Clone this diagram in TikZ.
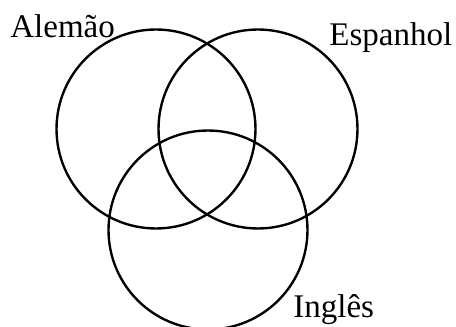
\documentclass[tikz,border=0pt]{standalone}
\usepackage{fontspec}
\setmainfont{Liberation Serif}
\usepackage{tikz}
\usetikzlibrary{positioning}
\definecolor{vennblack}{RGB}{0, 0, 0}
\tikzset{
  venncircle/.style={draw=vennblack, line width=1.35pt, circle, inner sep=0pt, minimum size=3.98cm},
  vennlabel/.style={anchor=base west, inner sep=0pt, font=\fontsize{18.8}{22}\selectfont}
}

\begin{document}
\begin{tikzpicture}[x=0.02cm, y=0.02cm]
% frame of the picture
\useasboundingbox (0,0) rectangle (456,327);
% three sets
\node[venncircle] (alemao) at (156,198) {};
\node[venncircle] (espanhol) at (258,198) {};
\node[venncircle] (ingles) at (208,97) {};
% set names
\node[vennlabel] (alemaoname) at (10,289.3) {Alemão};
\node[vennlabel] (espanholname) at (329,281) {Espanhol};
\node[vennlabel] (inglesname) at (293,9) {Inglês};
\end{tikzpicture}
\end{document}
